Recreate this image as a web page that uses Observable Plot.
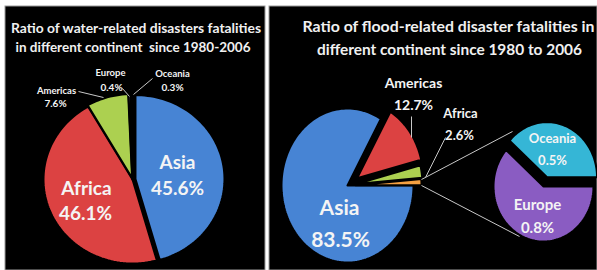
<!DOCTYPE html>
<html><head><meta charset="utf-8">
<script src="https://cdn.jsdelivr.net/npm/d3@7"></script>
<script src="https://cdn.jsdelivr.net/npm/@observablehq/plot@0.6"></script>
<style>body{margin:0;background:#fff;} #chart svg{display:block}</style>
</head><body><div id="chart"></div>
<script>
// ---- data ----
const waterContinents = ["Asia", "Africa", "Americas", "Europe", "Oceania"];
const waterShares = [45.6, 46.1, 7.6, 0.4, 0.3];
const floodMainGroups = ["Asia", "Americas", "Africa", "Other"];
const floodMainShares = [83.5, 12.7, 2.6, 1.3];
const floodOtherContinents = ["Europe", "Oceania"];
const floodOtherShares = [0.8, 0.5];
const leftTitle = ["Ratio of water-related disasters fatalities", "in different continent  since 1980-2006"];
const rightTitle = ["Ratio of flood-related disaster fatalities in", "different continent since 1980 to 2006"];

// ---- style / layout ----
const leftColors = {Asia:"#4784d4", Africa:"#dc4242", Americas:"#acd050", Europe:"#8a5cc2", Oceania:"#35b6d6"};
const rightColors = {Asia:"#4784d4", Americas:"#dc4242", Africa:"#acd050", Other:"#f4a042"};
const otherColors = {Europe:"#8a5cc2", Oceania:"#35b6d6"};

const leftPie = {cx:132, cy:179, rx:89, ry:84, start:0, explode:{Asia:3, Americas:1.5}, colors:leftColors};
const mainPie = {cx:347, cy:185, rx:66, ry:77, start:90, explode:{Americas:12, Africa:9, Other:8}, colors:rightColors};
const otherPie = {cx:543, cy:186, rx:50, ry:55, start:90, explode:{Oceania:10}, colors:otherColors};

function slices(names, values, pie) {
  const total = d3.sum(values);
  let a = pie.start;
  return names.map((n, i) => {
    const span = values[i] / total * 360;
    const a0 = a, a1 = a + span; a = a1;
    const ex = pie.explode[n] || 0;
    const mid = (a0 + a1) / 2 * Math.PI / 180;
    const ox = pie.cx + ex * Math.sin(mid), oy = pie.cy - ex * Math.cos(mid);
    const pts = [{x: ox, y: oy}];
    const steps = Math.max(3, Math.ceil(span / 2));
    for (let k = 0; k <= steps; k++) {
      const t = (a0 + (a1 - a0) * k / steps) * Math.PI / 180;
      pts.push({x: ox + pie.rx * Math.sin(t), y: oy - pie.ry * Math.cos(t)});
    }
    pts.push({x: ox, y: oy});
    return {name: n, pts, color: pie.colors[n]};
  });
}

const allSlices = [
  ...slices(waterContinents, waterShares, leftPie),
  ...slices(floodMainGroups, floodMainShares, mainPie),
  ...slices(floodOtherContinents, floodOtherShares, otherPie)
];

const labels = [
  {t:"Asia", x:177, y:162, s:19}, {t:"45.6%", x:177, y:188, s:19},
  {t:"Africa", x:86, y:188, s:19}, {t:"46.1%", x:85, y:213, s:19},
  {t:"Americas", x:56, y:90, s:9.5}, {t:"7.6%", x:55, y:103, s:10},
  {t:"Europe", x:110, y:72, s:9.5}, {t:"0.4%", x:111, y:87, s:10},
  {t:"Oceania", x:172, y:73, s:9.5}, {t:"0.3%", x:172, y:87, s:10},
  {t:"Asia", x:339, y:208, s:21}, {t:"83.5%", x:340, y:240, s:21},
  {t:"Americas", x:413, y:83, s:14}, {t:"12.7%", x:413, y:105, s:14},
  {t:"Africa", x:460, y:113, s:13}, {t:"2.6%", x:459, y:135, s:13},
  {t:"Oceania", x:552, y:138, s:13}, {t:"0.5%", x:552, y:160, s:13},
  {t:"Europe", x:537, y:205, s:15}, {t:"0.8%", x:537, y:228, s:15}
];
const leaders = [
  {x1:78, y1:91, x2:103, y2:97}, {x1:122, y1:88, x2:129, y2:96}, {x1:152, y1:78, x2:133, y2:94},
  {x1:411, y1:116, x2:411, y2:137}, {x1:445, y1:137, x2:425, y2:177},
  {x1:421, y1:179, x2:512, y2:131}, {x1:421, y1:185, x2:519, y2:236}
];
const titleRows = [
  {t:leftTitle[0], x:135.5, y:28, w:250, s:13.5}, {t:leftTitle[1], x:132.5, y:47, w:235, s:13.5},
  {t:rightTitle[0], x:448, y:27, w:292, s:15.5}, {t:rightTitle[1], x:449, y:50, w:265, s:15.5}
];
const panels = [{x1:5, x2:265, y1:6, y2:270}, {x1:269, x2:597, y1:6, y2:270}];

const marks = [
  Plot.rect(panels, {x1:"x1", x2:"x2", y1:"y1", y2:"y2", fill:"#000", stroke:"#9a9a9a", strokeWidth:1}),
  ...allSlices.map(s => Plot.line(s.pts, {x:"x", y:"y", fill:s.color, stroke:"#000", strokeWidth:2, strokeLinejoin:"round", curve:"linear"})),
  Plot.link(leaders, {x1:"x1", y1:"y1", x2:"x2", y2:"y2", stroke:"#c8c8c8", strokeWidth:1}),
  Plot.text(labels, {x:"x", y:"y", text:"t", fontSize:d=>d.s, fill:"#f4f4f4", fontWeight:"bold", fontFamily:"Lato, 'Open Sans', sans-serif"}),
  Plot.text(titleRows, {x:"x", y:"y", text:"t", fontSize:d=>d.s, fill:"#f0f0f0", fontWeight:"bold", fontFamily:"Lato, 'Open Sans', sans-serif", className:"ttl"})
];

const chart = Plot.plot({
  width:597, height:270, margin:0,
  x:{domain:[0,597], range:[0,597], axis:null},
  y:{domain:[0,270], range:[0,270], axis:null},
  style:{background:"#fff"},
  marks
});
d3.select(chart).selectAll("g.ttl text").each(function(d, i) {
  this.setAttribute("textLength", titleRows[i].w);
  this.setAttribute("lengthAdjust", "spacingAndGlyphs");
});
document.getElementById("chart").append(chart);
</script>
</body></html>
